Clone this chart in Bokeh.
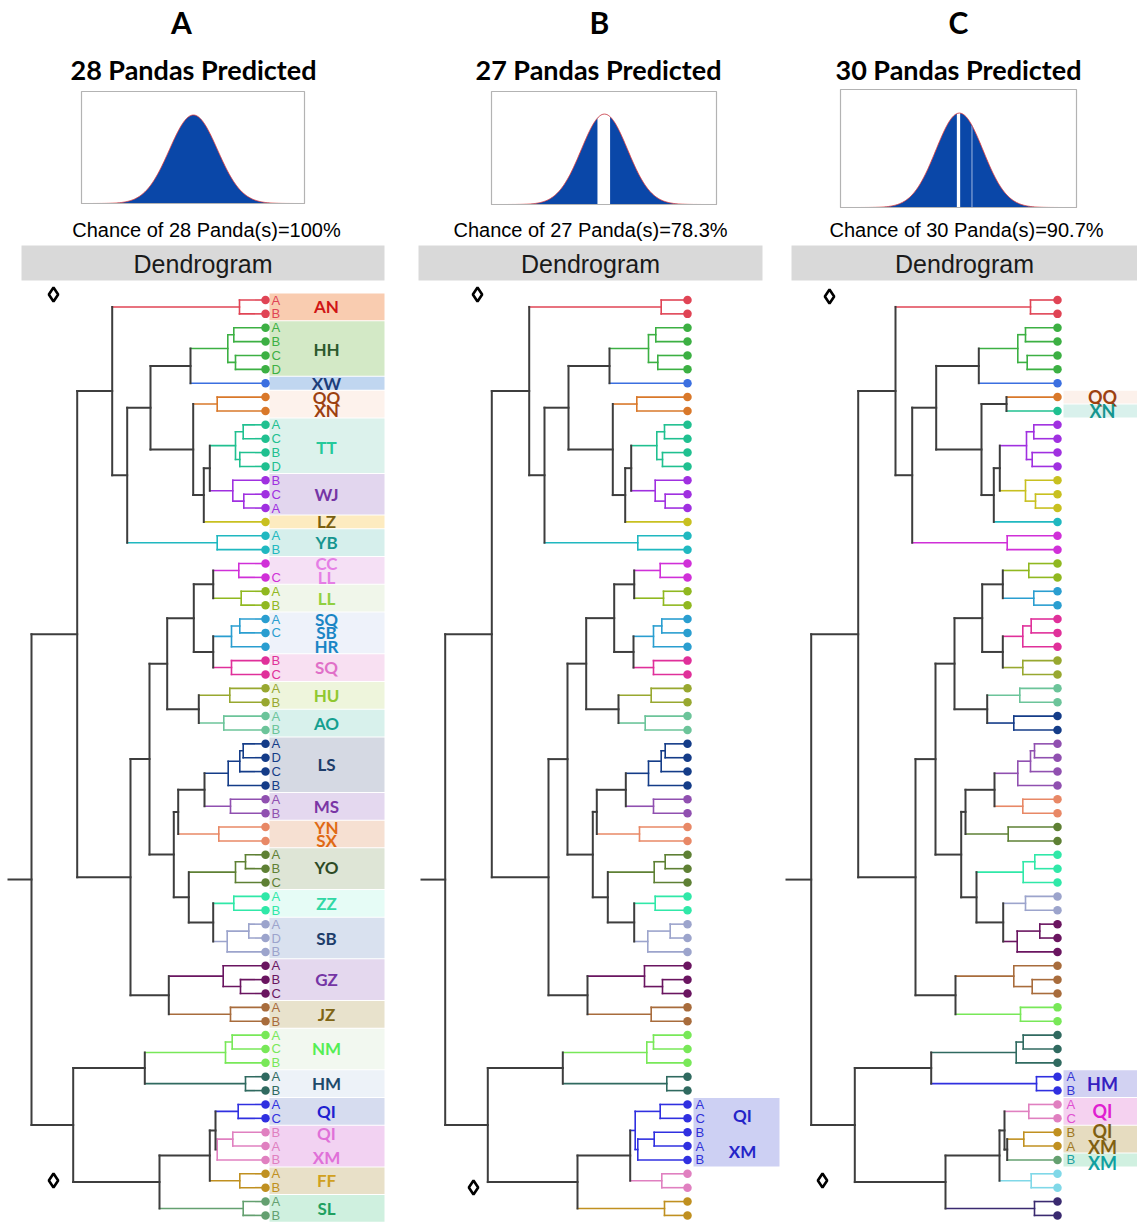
import numpy as np
from bokeh.plotting import figure
from bokeh.models import Range1d
from bokeh.core.properties import value
from bokeh.embed import file_html
from bokeh.resources import INLINE

GRAY = "#3d3d3d"

# ---------------- data ----------------
panel_letters = ["A", "B", "C"]
predicted = [28, 27, 30]
chance = ["100%", "78.3%", "90.7%"]

# predicted-count distributions (fractions of the box width)
dist_mean = [0.502, 0.502, 0.504]
dist_sd = [0.108, 0.103, 0.100]
dist_peak = [0.79, 0.80, 0.80]
dist_gaps = [[], [(0.470, 0.529)], [(0.4915, 0.508)]]
dist_marks = [[], [], [0.558]]

# leaf groups (clusters) per panel
A_group_sizes = [2, 4, 1, 2, 4, 3, 1, 2, 2, 2, 3, 2, 2, 2, 4, 2, 2, 3, 2, 3, 3, 2, 3, 2, 2, 3, 2, 2]
A_group_colors = ["#e04455", "#3cb043", "#3b6fe0", "#d9782a", "#20c090", "#a030e0", "#c8c020",
                  "#20b8c0", "#d030d8", "#90b820", "#2a9ed0", "#e0309a", "#98a830", "#6cc49a",
                  "#143c88", "#9050b0", "#e88866", "#5e8034", "#30e8a8", "#9ca4cc", "#6a1560",
                  "#a86c3c", "#78e858", "#306a60", "#3030e0", "#e080c0", "#c09020", "#64a070"]
B_group_sizes = [2, 4, 1, 2, 4, 3, 1, 2, 2, 2, 3, 2, 2, 2, 4, 2, 2, 3, 2, 3, 3, 2, 3, 2, 5, 2, 2]
B_group_colors = ["#e04455", "#3cb043", "#3b6fe0", "#d9782a", "#20c090", "#a030e0", "#c8c020",
                  "#20b8c0", "#d030d8", "#90b820", "#2a9ed0", "#e0309a", "#98a830", "#6cc49a",
                  "#143c88", "#9050b0", "#e88866", "#5e8034", "#30e8a8", "#9ca4cc", "#6a1560",
                  "#a86c3c", "#78e858", "#306a60", "#3030e0", "#e080c0", "#c09020"]
C_group_sizes = [2, 4, 1, 1, 1, 4, 3, 1, 2, 2, 2, 3, 2, 2, 2, 4, 2, 2, 3, 2, 3, 3, 2, 3, 2, 2, 2, 1, 2, 2]
C_group_colors = ["#e04455", "#3cb043", "#3b6fe0", "#d9782a", "#20c090", "#a030e0", "#c8c020",
                  "#20b8c0", "#d030d8", "#90b820", "#2a9ed0", "#e0309a", "#98a830", "#6cc49a",
                  "#143c88", "#9050b0", "#e88866", "#5e8034", "#30e8a8", "#9ca4cc", "#6a1560",
                  "#a86c3c", "#78e858", "#306a60", "#3030e0", "#e080c0", "#c09020", "#64a070",
                  "#80d8e8", "#3a2a70"]

# dendrograms: [merge distance, child, child]; ints are leaf positions (top to bottom)
A_tree = [234,
  [188.3,
    [153.3, [26, 0, 1],
      [138.3,
        [115, [75, [37.7, [31.7, 2, 3], [30, 4, 5]], 6],
              [72.3, [48.3, 7, 8], [61.7, [55.7, [30, [22.3, 9, 10], [25.7, 11, 12]], [32.7, 13, [21.7, 14, 15]]], 16]]],
        [48.3, 17, 18]]],
    [135,
      [116,
        [98.3, [71.7, [52.3, [26.7, 19, 20], [24.3, 21, 22]], [52.3, [34, [25.7, 23, 24], 25], [34, 26, 27]]],
               [66.7, [35.7, 28, 29], [41.7, 30, 31]]],
        [91.7, [87.3, [61, [37.3, [25.7, [22.3, 32, 33], 34], 35], [35, 36, 37]], [46.7, 38, 39]],
               [76.7, [30, [20, 40, 41], 42], [52.3, [31.7, 43, 44], [38.3, [16.7, 45, 46], 47]]]]],
      [96.7, [42.3, 48, [25, 49, 50]], [35, 51, 52]]]],
  [192.3,
    [120.7, [40, [33.3, 53, 54], 55], [20, 56, 57]],
    [106, [55.7, [50, [27.3, 58, 59], [48.3, [32.7, 60, 61], 62]], [25.7, 63, 64]], [22.3, 65, 66]]]]
B_tree = [242.3,
  [195.7,
    [158.3, [26.3, 0, 1],
      [143,
        [119, [78, [39, [31.7, 2, 3], [29.7, 4, 5]], 6],
              [74.7, [50.7, 7, 8], [62.3, [56.3, [30.7, [23, 9, 10], [25, 11, 12]], [32.3, 13, [22.3, 14, 15]]], 16]]],
        [49.7, 17, 18]]],
    [139,
      [120,
        [101.3, [73.3, [53.3, [27.3, 19, 20], [24, 21, 22]], [54, [34, [25.7, 23, 24], 25], [34, 26, 27]]],
                [69, [36.3, 28, 29], [42.3, 30, 31]]],
        [94.7, [90.7, [61.7, [39, [26.3, [22.3, 32, 33], 34], 35], [34, 36, 37]], [48, 38, 39]],
               [79.7, [33.3, [22.3, 40, 41], 42], [53.3, [32.3, 43, 44], [39.7, [17.3, 45, 46], 47]]]]],
      [100, [43, 48, [25, 49, 50]], [36.3, 51, 52]]]],
  [199.7,
    [124.7, [40.7, [34, 53, 54], 55], [20.7, 56, 57]],
    [110, [57.3, [52.3, [27.3, 58, 59], [49.7, [33.3, 60, 61], 62]], [25.7, 63, 64]], [23, 65, 66]]]]
C_tree = [246.3,
  [199.3,
    [162, [27, 0, 1],
      [145.3,
        [121.3, [78.7, [39.7, [32, 2, 3], [30.3, 4, 5]], 6],
                [76, [51, 7, 8], [63.7, [57.7, [31, [23.7, 9, 10], [25.3, 11, 12]], [32, 13, [22, 14, 15]]], 16]]],
        [50.3, 17, 18]]],
    [142,
      [122,
        [103, [75.3, [54.7, [28.7, 19, 20], [23.7, 21, 22]], [54.7, [34.7, [26.3, 23, 24], 25], [34.7, 26, 27]]],
              [70.3, [37.7, 28, 29], [43.7, 30, 31]]],
        [96.3, [92, [63, [39.7, [27, [23, 32, 33], 34], 35], [34.7, 36, 37]], [49.3, 38, 39]],
               [81, [34.3, [22.7, 40, 41], 42], [54.3, [32, 43, 44], [40.3, [17.7, 45, 46], 47]]]]],
      [102, [43.7, 48, [25.3, 49, 50]], [37, 51, 52]]]],
  [202.7,
    [126.3, [41.3, [34.3, 53, 54], 55], [21, 56, 57]],
    [112, [58, [53, [28.7, 58, 59], [50.3, [33.7, 60, 61], 62]], [26.3, 63, 64]], [23, 65, 66]]]]
root_stub = [257, 266, 271]

# panel A annotation column
A_band_fill = ["#f9ccb0", "#d3e9c6", "#c0d6f0", "#fdf2ec", "#dcf2ec", "#e2d6ee", "#fdebc0",
               "#d6efec", "#f5e0f5", "#f0f6ea", "#eef2fa", "#f8e0f2", "#eef5dc", "#d8f1ec",
               "#d5d9e3", "#e4d8ef", "#f6e0d2", "#dee5d6", "#e6fcf6", "#d9e1ef", "#e4d8ee",
               "#e8e2cc", "#f2f8f0", "#edf2f8", "#d6dcef", "#f2d2f2", "#e8e0c8", "#cff0df"]
A_labels = ["AN", "HH", "XW", "QQ", "XN", "TT", "WJ", "LZ", "YB", "CC", "LL", "LL", "SQ", "SB", "HR",
            "SQ", "HU", "AO", "LS", "MS", "YN", "SX", "YO", "ZZ", "SB", "GZ", "JZ", "NM", "HM",
            "QI", "QI", "XM", "FF", "SL"]
A_label_pos = [0.5, 3.55, 6, 7, 8, 10.6, 14, 16, 17.5, 19, 20, 21.5, 23, 24, 25, 26.5, 28.5, 30.5,
               33.5, 36.5, 38, 39, 40.9, 43.5, 46, 49, 51.5, 54, 56.5, 58.5, 60.1, 61.8, 63.5, 65.5]
A_label_colors = ["#d01515", "#2d5a2d", "#1c3d7a", "#9c4010", "#9c4010", "#25c99a", "#7535a5",
                  "#7a6010", "#15958f", "#e57ee5", "#e57ee5", "#90d040", "#1a85c5", "#1a85c5",
                  "#1a85c5", "#e070c8", "#90c830", "#15a090", "#1d3d6a", "#7a35a5", "#e06a15",
                  "#e06a15", "#2d4a25", "#30d8a5", "#1d3d6a", "#7535a5", "#806515", "#55ee55",
                  "#1d4a6a", "#2020d0", "#e070d8", "#e070d8", "#d0a020", "#20a060"]
A_leaf_letters = ["A", "B", "A", "B", "C", "D", "", "", "", "A", "C", "B", "D", "B", "C", "A", "",
                  "A", "B", "", "C", "A", "B", "A", "C", "", "B", "C", "A", "B", "A", "B", "A", "D",
                  "C", "B", "A", "B", "", "", "A", "B", "C", "A", "B", "A", "D", "B", "A", "B", "C",
                  "A", "B", "A", "C", "B", "A", "B", "A", "C", "B", "A", "B", "A", "B", "A", "B"]

# panel B annotation column
B_band_first = [58]
B_band_last = [62]
B_band_fill = ["#cdd0f3"]
B_labels = ["QI", "XM"]
B_label_pos = [58.8, 61.4]
B_label_colors = ["#2424c8", "#2424c8"]
B_letter_leaf = [58, 59, 60, 61, 62]
B_letters = ["A", "C", "B", "A", "B"]
B_letter_colors = ["#3030d8"] * 5

# panel C annotation column
C_band_first = [7, 8, 56, 58, 60, 62]
C_band_last = [7, 8, 57, 59, 61, 62]
C_band_fill = ["#fcf1eb", "#d9f1ec", "#d2d2f2", "#f5d2f0", "#e6dcc0", "#d0f0e0"]
C_labels = ["QQ", "XN", "HM", "QI", "QI", "XM", "XM"]
C_label_pos = [7, 8, 56.5, 58.5, 59.9, 61.1, 62.2]
C_label_colors = ["#9c4010", "#15958f", "#3520c0", "#e020d0", "#806010", "#806010", "#10a0a0"]
C_letter_leaf = [56, 57, 58, 59, 60, 61, 62]
C_letters = ["A", "B", "A", "C", "B", "A", "B"]
C_letter_colors = ["#3535d5", "#3535d5", "#e050d0", "#e050d0", "#a07820", "#a07820", "#20a0a0"]

# ---------------- layout ----------------
Y0, DY = 299.5, 13.87
LAYOUT = [
    dict(letter_x=181, title_x=193, chance_x=206, box=(81, 304, 91, 203), bar=(21, 384), leaf_x=265,
         band_x=(269, 384), label_x=326, letters_x=271, label_size="17px", handles=[(53, 294), (53, 1180)]),
    dict(letter_x=599, title_x=598, chance_x=590, box=(491, 716, 91, 204), bar=(418, 762), leaf_x=687,
         band_x=(693, 779), label_x=742, letters_x=695, label_size="17px", handles=[(477, 294), (473, 1187)]),
    dict(letter_x=958, title_x=958, chance_x=966, box=(840, 1076, 89, 207), bar=(791, 1137), leaf_x=1057,
         band_x=(1063, 1137), label_x=1102, letters_x=1066, label_size="18px", handles=[(829, 296), (822, 1180)]),
]

p = figure(width=1137, height=1222, x_range=Range1d(0, 1137), y_range=Range1d(1222, 0),
           output_backend="svg", toolbar_location=None, min_border=0,
           x_axis_location=None, y_axis_location=None)
p.grid.visible = False
p.outline_line_color = None


def expand(sizes, colors):
    out = []
    for n, c in zip(sizes, colors):
        out += [c] * n
    return out


def tree_segments(tree, leaf_x, leaf_colors):
    seg = dict(x0=[], y0=[], x1=[], y1=[], c=[])

    def add(a, b, c, d, col):
        seg["x0"].append(a); seg["y0"].append(b); seg["x1"].append(c); seg["y1"].append(d); seg["c"].append(col)

    def rec(node):
        if isinstance(node, int):
            return leaf_x, Y0 + node * DY, leaf_colors[node]
        x = leaf_x - node[0]
        kids = [rec(ch) for ch in node[1:]]
        ys = [k[1] for k in kids]
        cset = {k[2] for k in kids}
        col = kids[0][2] if len(cset) == 1 else GRAY
        for kx, ky, kc in kids:
            add(x, ky, kx, ky, kc)
        add(x, min(ys), x, max(ys), col)
        return x, (min(ys) + max(ys)) / 2, col

    rx, ry, rc = rec(tree)
    return seg, rx, ry


trees = [A_tree, B_tree, C_tree]
leaf_cols = [expand(A_group_sizes, A_group_colors), expand(B_group_sizes, B_group_colors),
             expand(C_group_sizes, C_group_colors)]

A_first = list(np.cumsum([0] + A_group_sizes[:-1]))
A_last = [f + n - 1 for f, n in zip(A_first, A_group_sizes)]
ann = [
    dict(first=A_first, last=A_last, fill=A_band_fill, labels=A_labels, lpos=A_label_pos, lcol=A_label_colors,
         let_leaf=[i for i, t in enumerate(A_leaf_letters) if t],
         letters=[t for t in A_leaf_letters if t],
         let_col=[leaf_cols[0][i] for i, t in enumerate(A_leaf_letters) if t]),
    dict(first=B_band_first, last=B_band_last, fill=B_band_fill, labels=B_labels, lpos=B_label_pos,
         lcol=B_label_colors, let_leaf=B_letter_leaf, letters=B_letters, let_col=B_letter_colors),
    dict(first=C_band_first, last=C_band_last, fill=C_band_fill, labels=C_labels, lpos=C_label_pos,
         lcol=C_label_colors, let_leaf=C_letter_leaf, letters=C_letters, let_col=C_letter_colors),
]

for i, L in enumerate(LAYOUT):
    # headers
    p.text(x=[L["letter_x"]], y=[21], text=[panel_letters[i]], text_font=value("Lato"),
           text_font_style="bold", text_font_size="30px", text_align="center", text_baseline="middle",
           text_color="black")
    p.text(x=[L["title_x"]], y=[69], text=[f"{predicted[i]} Pandas Predicted"], text_font=value("Lato"),
           text_font_style="bold", text_font_size="27px", text_align="center", text_baseline="middle",
           text_color="black")
    p.text(x=[L["chance_x"]], y=[229], text=[f"Chance of {predicted[i]} Panda(s)={chance[i]}"],
           text_font=value("Liberation Sans"), text_font_size="20px", text_align="center",
           text_baseline="middle", text_color="black")

    # distribution box
    bl, br, bt, bb = L["box"]
    t = np.linspace(0, 1, 500)
    dens = np.exp(-0.5 * ((t - dist_mean[i]) / dist_sd[i]) ** 2)
    xs = bl + t * (br - bl)
    ys = bb - dist_peak[i] * (bb - bt) * dens
    p.varea(x=xs, y1=np.full_like(xs, bb), y2=ys, fill_color="#0a47a8")
    for g0, g1 in dist_gaps[i]:
        m = (t >= g0) & (t <= g1)
        p.varea(x=xs[m], y1=np.full(m.sum(), bb), y2=ys[m], fill_color="white")
    for gm in dist_marks[i]:
        k = int(np.argmin(np.abs(t - gm)))
        p.segment(x0=[xs[k]], y0=[bb], x1=[xs[k]], y1=[ys[k]], line_color="#9fb6e0", line_width=1)
    p.line(xs, ys, line_color="#e23a3a", line_width=1, line_alpha=0.85)
    p.quad(left=[bl], right=[br], top=[bt], bottom=[bb], fill_color=None, line_color="#b3b3b3", line_width=1.2)

    # dendrogram header bar
    x0b, x1b = L["bar"]
    p.quad(left=[x0b], right=[x1b], top=[245], bottom=[280], fill_color="#d9d9d9", line_color=None)
    p.text(x=[(x0b + x1b) / 2], y=[263], text=["Dendrogram"], text_font=value("Liberation Sans"),
           text_font_size="25px", text_align="center", text_baseline="middle", text_color="#1a1a1a")

    # annotation bands
    a = ann[i]
    bx0, bx1 = L["band_x"]
    p.quad(left=[bx0] * len(a["first"]), right=[bx1] * len(a["first"]),
           top=[Y0 + f * DY - DY / 2 + 0.5 for f in a["first"]],
           bottom=[Y0 + l * DY + DY / 2 - 0.5 for l in a["last"]],
           fill_color=a["fill"], line_color=None)
    p.text(x=[L["label_x"]] * len(a["labels"]), y=[Y0 + q * DY for q in a["lpos"]], text=a["labels"],
           text_color=a["lcol"], text_font=value("Lato"), text_font_style="bold",
           text_font_size=L["label_size"], text_align="center", text_baseline="middle")
    p.text(x=[L["letters_x"]] * len(a["letters"]), y=[Y0 + q * DY for q in a["let_leaf"]], text=a["letters"],
           text_color=a["let_col"], text_font=value("Liberation Sans"), text_font_size="13px",
           text_align="left", text_baseline="middle")

    # dendrogram
    seg, rx, ry = tree_segments(trees[i], L["leaf_x"], leaf_cols[i])
    col_idx = [k for k, c in enumerate(seg["c"]) if c != GRAY]
    gry_idx = [k for k, c in enumerate(seg["c"]) if c == GRAY]
    p.segment(x0=[seg["x0"][k] for k in col_idx], y0=[seg["y0"][k] for k in col_idx],
              x1=[seg["x1"][k] for k in col_idx], y1=[seg["y1"][k] for k in col_idx],
              line_color=[seg["c"][k] for k in col_idx], line_width=1.6, line_cap="square")
    p.segment(x0=[seg["x0"][k] for k in gry_idx] + [rx], y0=[seg["y0"][k] for k in gry_idx] + [ry],
              x1=[seg["x1"][k] for k in gry_idx] + [L["leaf_x"] - root_stub[i]],
              y1=[seg["y1"][k] for k in gry_idx] + [ry],
              line_color=GRAY, line_width=2, line_cap="square")
    n = len(leaf_cols[i])
    p.scatter(x=[L["leaf_x"]] * n, y=[Y0 + k * DY for k in range(n)], size=8.5,
              fill_color=leaf_cols[i], line_color=None)

    # slider handles
    hx = [h[0] for h in L["handles"]]
    hy = [h[1] for h in L["handles"]]
    p.scatter(x=hx, y=hy, marker="diamond", size=14, fill_color="white", line_color="black", line_width=2.6)

open("out.html", "w").write(file_html(p, INLINE))
